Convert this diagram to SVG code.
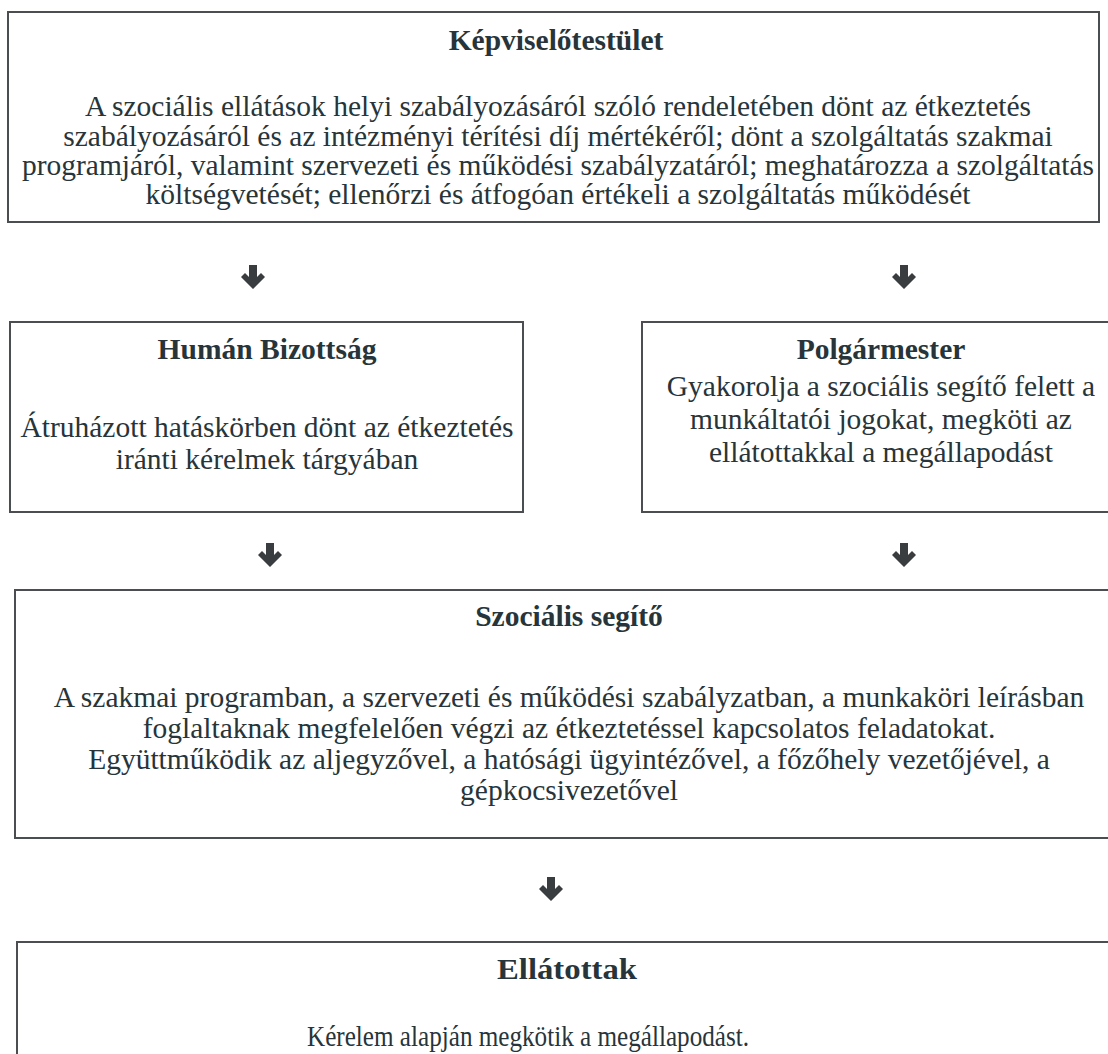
<svg xmlns="http://www.w3.org/2000/svg" width="1108" height="1054" viewBox="0 0 1108 1054">
<style>
.box{fill:none;stroke:#4a4e50;stroke-width:2}
.t{font-family:"Liberation Serif","Times New Roman",serif;font-size:29.5px;fill:#27353a;text-anchor:middle}
.b{font-weight:bold}
.arr{fill:#3a3d3f}
</style>
<rect width="1108" height="1054" fill="#fff"/>
<g id="kepviselotestulet">
<rect class="box" x="8" y="12" width="1091" height="210"/>
<text class="t b" x="556" y="50">Képviselőtestület</text>
<text class="t" x="558" y="116">A szociális ellátások helyi szabályozásáról szóló rendeletében dönt az étkeztetés</text>
<text class="t" x="558" y="146">szabályozásáról és az intézményi térítési díj mértékéről; dönt a szolgáltatás szakmai</text>
<text class="t" x="558" y="175">programjáról, valamint szervezeti és működési szabályzatáról; meghatározza a szolgáltatás</text>
<text class="t" x="558" y="204">költségvetését; ellenőrzi és átfogóan értékeli a szolgáltatás működését</text>
</g>
<g id="human-bizottsag">
<rect class="box" x="10" y="322" width="513" height="190"/>
<text class="t b" x="267" y="359">Humán Bizottság</text>
<text class="t" x="267" y="437">Átruházott hatáskörben dönt az étkeztetés</text>
<text class="t" x="267" y="469">iránti kérelmek tárgyában</text>
</g>
<g id="polgarmester">
<rect class="box" x="642" y="322" width="480" height="190"/>
<text class="t b" x="881" y="359">Polgármester</text>
<text class="t" x="881" y="396">Gyakorolja a szociális segítő felett a</text>
<text class="t" x="881" y="429">munkáltatói jogokat, megköti az</text>
<text class="t" x="881" y="462">ellátottakkal a megállapodást</text>
</g>
<g id="szocialis-segito">
<rect class="box" x="15" y="590" width="1110" height="248"/>
<text class="t b" x="569" y="626">Szociális segítő</text>
<text class="t" x="569" y="707">A szakmai programban, a szervezeti és működési szabályzatban, a munkaköri leírásban</text>
<text class="t" x="569" y="738">foglaltaknak megfelelően végzi az étkeztetéssel kapcsolatos feladatokat.</text>
<text class="t" x="569" y="769">Együttműködik az aljegyzővel, a hatósági ügyintézővel, a főzőhely vezetőjével, a</text>
<text class="t" x="569" y="800">gépkocsivezetővel</text>
</g>
<g id="ellatottak">
<rect class="box" x="17" y="942" width="1110" height="200"/>
<text class="t b" x="567" y="979" textLength="140" lengthAdjust="spacingAndGlyphs">Ellátottak</text>
<text class="t" x="528" y="1046" textLength="442" lengthAdjust="spacingAndGlyphs">Kérelem alapján megkötik a megállapodást.</text>
</g>
<g id="connectors">
<path class="arr" d="M249 265h8v12l4-4l4 4l-12 12l-12-12l4-4l4 4z"/>
<path class="arr" d="M900 265h8v12l4-4l4 4l-12 12l-12-12l4-4l4 4z"/>
<path class="arr" d="M266 543h8v12l4-4l4 4l-12 12l-12-12l4-4l4 4z"/>
<path class="arr" d="M900 543h8v12l4-4l4 4l-12 12l-12-12l4-4l4 4z"/>
<path class="arr" d="M547 877h8v12l4-4l4 4l-12 12l-12-12l4-4l4 4z"/>
</g>
</svg>
